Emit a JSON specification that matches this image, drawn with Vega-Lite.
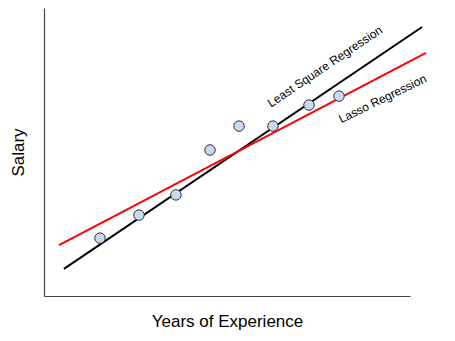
{
  "$schema": "https://vega.github.io/schema/vega-lite/v6.json",
  "width": 366,
  "height": 288,
  "autosize": {"type": "none"},
  "padding": {"left": 44, "top": 8, "right": 45, "bottom": 45},
  "background": "white",
  "config": {
    "view": {"stroke": null},
    "font": "Liberation Sans"
  },
  "datasets": {
    "points": [
      {"years": 3.06, "salary": 20.1},
      {"years": 5.19, "salary": 28.1},
      {"years": 7.21, "salary": 35.1},
      {"years": 9.07, "salary": 50.7},
      {"years": 10.66, "salary": 59.0},
      {"years": 12.51, "salary": 59.0},
      {"years": 14.48, "salary": 66.3},
      {"years": 16.12, "salary": 69.4}
    ],
    "lines": [
      {"model": "Least Square Regression", "years": 1.09, "salary": 9.4},
      {"model": "Least Square Regression", "years": 20.66, "salary": 93.4},
      {"model": "Lasso Regression", "years": 0.82, "salary": 17.7},
      {"model": "Lasso Regression", "years": 20.87, "salary": 84.4}
    ],
    "labels": [
      {"model": "Least Square Regression", "years": 15.35, "salary": 79.7},
      {"model": "Lasso Regression", "years": 18.5, "salary": 68.5}
    ]
  },
  "encoding": {
    "x": {
      "field": "years", "type": "quantitative",
      "scale": {"domain": [0, 20], "nice": false, "zero": false},
      "axis": {
        "title": "Years of Experience", "titleFontSize": 17, "titleFontWeight": "normal",
        "titleColor": "#000", "titleFont": "Liberation Sans", "titlePadding": 17,
        "labels": false, "ticks": false, "grid": false,
        "domainColor": "#444", "domainWidth": 1.2
      }
    },
    "y": {
      "field": "salary", "type": "quantitative",
      "scale": {"domain": [0, 100], "nice": false, "zero": false},
      "axis": {
        "title": "Salary", "titleFontSize": 17, "titleFontWeight": "normal",
        "titleColor": "#000", "titleFont": "Liberation Sans", "titlePadding": 17,
        "labels": false, "ticks": false, "grid": false,
        "domainColor": "#444", "domainWidth": 1.2
      }
    }
  },
  "layer": [
    {
      "data": {"name": "lines"},
      "mark": {"type": "line", "strokeWidth": 2, "clip": false},
      "encoding": {
        "color": {
          "field": "model", "type": "nominal",
          "scale": {"domain": ["Least Square Regression", "Lasso Regression"], "range": ["#000000", "#ff0000"]},
          "legend": null
        }
      }
    },
    {
      "data": {"name": "points"},
      "mark": {"type": "circle", "size": 110, "fill": "#c9daf0", "stroke": "#333", "strokeWidth": 1, "opacity": 1}
    },
    {
      "data": {"name": "labels"},
      "transform": [{"filter": "datum.model === 'Least Square Regression'"}],
      "mark": {"type": "text", "angle": -34, "fontSize": 12, "font": "Liberation Sans", "color": "#000", "align": "center", "baseline": "middle"},
      "encoding": {"text": {"field": "model"}}
    },
    {
      "data": {"name": "labels"},
      "transform": [{"filter": "datum.model === 'Lasso Regression'"}],
      "mark": {"type": "text", "angle": -26, "fontSize": 12, "font": "Liberation Sans", "color": "#000", "align": "center", "baseline": "middle"},
      "encoding": {"text": {"field": "model"}}
    }
  ]
}
